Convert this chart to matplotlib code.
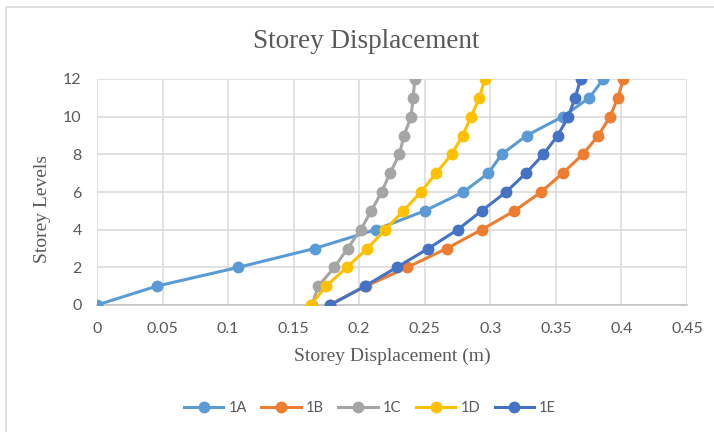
import matplotlib
matplotlib.use("Agg")
import matplotlib.pyplot as plt
from matplotlib.patches import Rectangle

# storey levels and displacements (m)
storeys = [0, 1, 2, 3, 4, 5, 6, 7, 8, 9, 10, 11, 12]
disp_1a = [0.0, 0.0455, 0.1078, 0.166, 0.2125, 0.250, 0.2795, 0.2985, 0.3087, 0.3277, 0.3552, 0.3755, 0.3862]
disp_1b = [0.1775, 0.2050, 0.2367, 0.2667, 0.2934, 0.3184, 0.3387, 0.3552, 0.3705, 0.3824, 0.3913, 0.3972, 0.4015]
disp_1c = [0.1640, 0.1688, 0.1810, 0.1911, 0.2012, 0.2092, 0.2171, 0.2235, 0.2306, 0.2342, 0.2395, 0.2411, 0.2424]
disp_1d = [0.1630, 0.1747, 0.1904, 0.2062, 0.2197, 0.2337, 0.2471, 0.2586, 0.2705, 0.2789, 0.2853, 0.2916, 0.2959]
disp_1e = [0.1777, 0.2044, 0.2286, 0.2527, 0.2751, 0.2934, 0.3120, 0.3272, 0.3405, 0.3514, 0.3595, 0.3646, 0.3690]

series = ["1A", "1B", "1C", "1D", "1E"]
colors = ["#5B9BD5", "#ED7D31", "#A5A5A5", "#FFC000", "#4472C4"]
x_ticks = [0, 0.05, 0.1, 0.15, 0.2, 0.25, 0.3, 0.35, 0.4, 0.45]
x_tick_labels = ["0", "0.05", "0.1", "0.15", "0.2", "0.25", "0.3", "0.35", "0.4", "0.45"]
y_ticks = [0, 2, 4, 6, 8, 10, 12]

fig = plt.figure(figsize=(7.14, 4.32), dpi=100)
# chart border (only left/top show in the crop)
fig.patches.append(Rectangle((6 / 714, -0.1), 1.2, 1 - 7 / 432 + 0.1, transform=fig.transFigure,
                             fill=False, edgecolor="#D9D9D9", linewidth=1.2))

ax = fig.add_axes([97 / 714, 1 - 305 / 432, 590 / 714, 226 / 432])

for name, vals, c in zip(series, [disp_1a, disp_1b, disp_1c, disp_1d, disp_1e], colors):
    ax.plot(vals, storeys, color=c, linewidth=2.2, marker="o", markersize=7.5, label=name, zorder=3)

ax.set_xlim(0, 0.45)
ax.set_ylim(0, 12)
ax.set_xticks(x_ticks)
ax.set_xticklabels(x_tick_labels)
ax.set_yticks(y_ticks)
ax.grid(True, color="#D9D9D9", linewidth=1.1, zorder=0)
ax.set_axisbelow(True)
for s in ["top", "right", "left"]:
    ax.spines[s].set_visible(False)
ax.spines["bottom"].set_color("#BFBFBF")
ax.spines["bottom"].set_linewidth(1.1)
ax.tick_params(length=0, labelsize=11.5, labelcolor="#595959")
ax.tick_params(axis="x", pad=12)
ax.tick_params(axis="y", pad=11)
for lab in ax.get_xticklabels() + ax.get_yticklabels():
    lab.set_family("Lato")

serif = "Liberation Serif"
fig.text(366 / 714, 1 - 42 / 432, "Storey Displacement", ha="center", va="center",
         fontsize=19.5, family=serif, color="#595959")
ax.set_xlabel("Storey Displacement (m)", fontsize=14, family=serif, color="#595959", labelpad=9)
ax.set_ylabel("Storey Levels", fontsize=14, family=serif, color="#595959", labelpad=8.5, y=0.425)

leg = fig.legend(loc="center", bbox_to_anchor=(370 / 714, 1 - 408 / 432), ncol=5, frameon=False,
                 prop={"family": "Lato", "size": 10.5}, handlelength=2.7, columnspacing=1.0,
                 handletextpad=0.35)
for t in leg.get_texts():
    t.set_color("#595959")

fig.savefig("out.png", dpi=100)
